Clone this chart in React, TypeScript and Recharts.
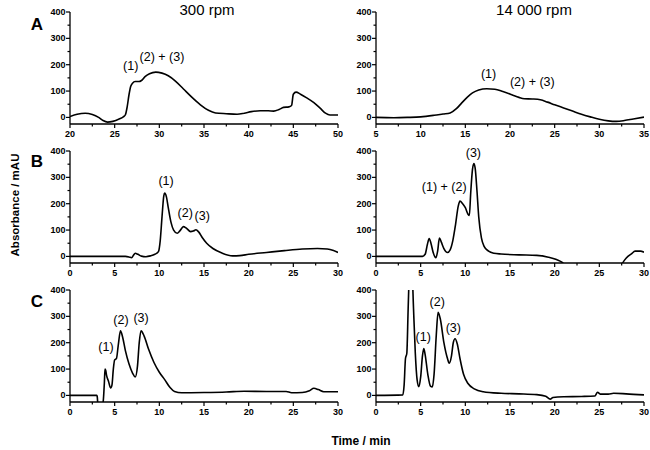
import React from 'react';
import { LineChart, Line, XAxis, YAxis, ReferenceDot } from 'recharts';

const FONT = '"Liberation Sans", Arial, sans-serif';

// ---------- Row A ----------
const timeA300 = [20, 20.8, 21.7, 22.5, 23.2, 23.7, 24.2, 24.8, 25.5, 26.0, 26.2, 26.4, 26.6, 26.8, 27.0, 27.3, 27.7, 28.0, 28.4, 28.9, 29.6, 30.3, 31.0, 31.8, 32.7, 33.6, 34.6, 35.5, 36.3, 37.5, 38.7, 39.5, 40.3, 41.3, 42.2, 42.8, 43.4, 43.9, 44.5, 44.8, 45.0, 45.3, 45.8, 46.5, 47.3, 48.0, 48.6, 49.1, 50];
const absA300 = [3, 12, 16, 11, 0, -12, -18, -15, -6, 3, 10, 40, 85, 118, 130, 136, 136, 140, 155, 166, 172, 168, 158, 138, 108, 78, 48, 27, 17, 14, 12, 16, 22, 25, 25, 24, 30, 38, 40, 45, 88, 96, 88, 74, 56, 35, 16, 9, 9];

const timeA14k = [5, 7, 8.5, 10, 11.5, 12.5, 13.3, 14.0, 14.6, 15.2, 15.8, 16.5, 17.4, 18.3, 19.2, 20.2, 21.0, 21.6, 22.5, 23.4, 24.2, 25.0, 26.0, 27.0, 28.0, 29.0, 30.0, 31.0, 31.9, 32.8, 33.8, 35];
const absA14k = [0, -1, 0, 2, 8, 13, 17, 33, 55, 76, 93, 104, 109, 107, 98, 86, 76, 71, 70, 67, 58, 48, 36, 24, 12, 2, -7, -13, -15, -12, -6, 1];

// ---------- Row B ----------
const timeB300 = [0, 3, 6.2, 6.6, 6.9, 7.1, 7.3, 7.6, 8.0, 8.5, 9.0, 9.5, 9.9, 10.1, 10.3, 10.5, 10.6, 10.8, 11.0, 11.3, 11.6, 12.0, 12.3, 12.7, 13.0, 13.5, 13.8, 14.1, 14.4, 14.8, 15.3, 16.0, 17.0, 18.2, 19.0, 20.0, 22.0, 24.0, 26.0, 27.7, 28.8, 29.5, 30];
const absB300 = [0, 0, 0, -2, -5, 4, 12, 8, 1, -1, 2, 8, 18, 60, 150, 230, 240, 225, 185, 130, 100, 88, 97, 113, 108, 94, 96, 101, 93, 72, 50, 30, 13, 2, 3, 8, 15, 22, 28, 30, 28, 22, 15];

const timeB14k = [0, 5.2, 5.5, 5.75, 5.95, 6.15, 6.4, 6.7, 6.9, 7.1, 7.3, 7.6, 8.0, 8.3, 8.6, 8.9, 9.2, 9.4, 9.7, 10.0, 10.3, 10.45, 10.6, 10.8, 10.95, 11.1, 11.3, 11.5, 11.8, 12.1, 12.6, 13.2, 14, 16, 18, 19.3, 20.2, 20.8, 21.2, 21.8, 27.0, 27.5, 27.8, 28.2, 28.6, 29.0, 29.6, 30];
const absB14k = [0, 0, 8, 45, 68, 50, 15, -5, 20, 70, 55, 30, 15, 25, 60, 120, 190, 210, 200, 185, 160, 155, 240, 330, 352, 335, 250, 150, 70, 38, 20, 12, 9, 6, 4, -3, -12, -22, -35, -60, -60, -30, -15, 0, 10, 20, 20, 16];

// ---------- Row C ----------
const timeC300 = [0, 3.0, 3.05, 3.15, 3.6, 3.75, 3.85, 3.92, 4.0, 4.1, 4.3, 4.55, 4.7, 4.85, 5.0, 5.2, 5.4, 5.65, 5.9, 6.2, 6.6, 7.0, 7.3, 7.55, 7.75, 7.95, 8.3, 8.8, 9.4, 10.0, 10.6, 11.2, 11.7, 12.5, 15, 17.5, 19.5, 22, 24.2, 24.8, 26.0, 26.8, 27.3, 27.8, 28.4, 30];
const absC300 = [0, 0, -5, -45, -45, -10, 50, 100, 95, 75, 55, 28, 40, 100, 135, 140, 190, 245, 220, 170, 120, 85, 70, 110, 200, 245, 225, 175, 125, 88, 60, 30, 15, 10, 11, 13, 16, 15, 15, 10, 11, 18, 27, 22, 14, 14];

const timeC14k = [0, 3.0, 3.15, 3.3, 3.45, 3.6, 3.75, 3.9, 4.05, 4.2, 4.4, 4.6, 4.8, 5.0, 5.2, 5.35, 5.5, 5.8, 6.1, 6.3, 6.5, 6.75, 6.95, 7.2, 7.6, 8.0, 8.2, 8.45, 8.65, 8.85, 9.1, 9.4, 9.8, 10.3, 11, 12, 14, 16, 18, 19.0, 19.5, 19.8, 21, 23, 24.5, 24.8, 25.1, 26.0, 26.6, 28, 30];
const absC14k = [0, 2, 40, 140, 160, 330, 480, 520, 470, 330, 160, 60, 33, 70, 150, 178, 155, 80, 35, 32, 80, 230, 315, 290, 200, 140, 122, 150, 200, 215, 195, 140, 80, 45, 25, 14, 8, 6, 3, -3, -14, -8, -5, -4, -2, 12, 5, 5, 8, 6, 2];

// ---------- Ticks ----------
const yMajor = [0, 100, 200, 300, 400];
const yMinor = [50, 150, 250, 350];
const xMajorA300 = [20, 25, 30, 35, 40, 45, 50];
const xMinorA300 = [22.5, 27.5, 32.5, 37.5, 42.5, 47.5];
const xMajorA14k = [5, 10, 15, 20, 25, 30, 35];
const xMinorA14k = [7.5, 12.5, 17.5, 22.5, 27.5, 32.5];
const xMajor30 = [0, 5, 10, 15, 20, 25, 30];
const xMinor30 = [2.5, 7.5, 12.5, 17.5, 22.5, 27.5];

// ---------- Peak annotations (data coords) ----------
const notesA300 = [{ t: 26.8, v: 195, text: '(1)' }, { t: 30.3, v: 229, text: '(2) + (3)' }];
const notesA14k = [{ t: 17.6, v: 165, text: '(1)' }, { t: 22.5, v: 135, text: '(2) + (3)' }];
const notesB300 = [{ t: 10.75, v: 285, text: '(1)' }, { t: 12.9, v: 164, text: '(2)' }, { t: 14.8, v: 152, text: '(3)' }];
const notesB14k = [{ t: 10.9, v: 391, text: '(3)' }, { t: 7.64, v: 262, text: '(1) + (2)' }];
const notesC300 = [{ t: 4.03, v: 184, text: '(1)' }, { t: 5.7, v: 286, text: '(2)' }, { t: 7.95, v: 294, text: '(3)' }];
const notesC14k = [{ t: 5.28, v: 222, text: '(1)' }, { t: 6.85, v: 354, text: '(2)' }, { t: 8.65, v: 256, text: '(3)' }];

const TICK_OFF = 6; // tickSize 4 + tickMargin 2

const XTick = (props: any) => {
  const { x, y, payload, majors } = props;
  const isMajor = majors.includes(payload.value);
  const axisY = y - TICK_OFF;
  return (
    <g>
      <line x1={x} x2={x} y1={axisY} y2={axisY + (isMajor ? 4 : 2.5)} stroke="#000" strokeWidth={1.2} />
      {isMajor && (
        <text x={x} y={axisY + 9.5} textAnchor="middle" dominantBaseline="central" fontFamily={FONT} fontWeight="bold" fontSize={9} fill="#000">
          {payload.value}
        </text>
      )}
    </g>
  );
};

const YTick = (props: any) => {
  const { x, y, payload, majors } = props;
  const isMajor = majors.includes(payload.value);
  const axisX = x + TICK_OFF;
  return (
    <g>
      <line x1={axisX} x2={axisX - (isMajor ? 4 : 2.5)} y1={y} y2={y} stroke="#000" strokeWidth={1.2} />
      {isMajor && (
        <text x={axisX - 4.5} y={y} textAnchor="end" dominantBaseline="central" fontFamily={FONT} fontWeight="bold" fontSize={9} fill="#000">
          {payload.value}
        </text>
      )}
    </g>
  );
};

type Note = { t: number; v: number; text: string };

const noteShape = (text: string) => (p: any) => (
  <text x={p.cx} y={p.cy} textAnchor="middle" dominantBaseline="central" fontFamily={FONT} fontSize={12.5} fill="#000" stroke="none">
    {text}
  </text>
);

function Panel(props: {
  plotLeft: number; plotTop: number; times: number[]; values: number[];
  domain: [number, number]; majors: number[]; minors: number[]; notes: Note[];
}) {
  const { plotLeft, plotTop, times, values, domain, majors, minors, notes } = props;
  const data = times.map((t, i) => ({ t, v: values[i] }));
  const xTicks = [...majors, ...minors].sort((a, b) => a - b);
  const yTicks = [...yMajor, ...yMinor].sort((a, b) => a - b);
  return (
    <div style={{ position: 'absolute', left: plotLeft - 40, top: plotTop - 6 }}>
      <LineChart width={316} height={138} data={data} margin={{ top: 6, right: 8, bottom: 0, left: 0 }}>
        <XAxis dataKey="t" type="number" domain={domain} ticks={xTicks} interval={0} allowDataOverflow height={20}
          tickSize={4} tickMargin={2} tickLine={false} axisLine={{ stroke: '#000', strokeWidth: 1.3 }}
          tick={<XTick majors={majors} />} />
        <YAxis type="number" domain={[-25, 400]} ticks={yTicks} interval={0} allowDataOverflow width={40}
          tickSize={4} tickMargin={2} tickLine={false} axisLine={{ stroke: '#000', strokeWidth: 1.3 }}
          tick={<YTick majors={yMajor} />} />
        <Line dataKey="v" type="monotone" stroke="#000" strokeWidth={1.6} dot={false} isAnimationActive={false} />
        {notes.map((n, i) => (
          <ReferenceDot key={i} x={n.t} y={n.v} r={1} ifOverflow="visible" shape={noteShape(n.text)} />
        ))}
      </LineChart>
    </div>
  );
}

export default function App() {
  return (
    <div style={{ position: 'absolute', left: 0, top: 0, width: 650, height: 450, background: '#fff', overflow: 'hidden' }}>
      <Panel plotLeft={70} plotTop={12} times={timeA300} values={absA300} domain={[20, 50]} majors={xMajorA300} minors={xMinorA300} notes={notesA300} />
      <Panel plotLeft={376} plotTop={12} times={timeA14k} values={absA14k} domain={[5, 35]} majors={xMajorA14k} minors={xMinorA14k} notes={notesA14k} />
      <Panel plotLeft={70} plotTop={151} times={timeB300} values={absB300} domain={[0, 30]} majors={xMajor30} minors={xMinor30} notes={notesB300} />
      <Panel plotLeft={376} plotTop={151} times={timeB14k} values={absB14k} domain={[0, 30]} majors={xMajor30} minors={xMinor30} notes={notesB14k} />
      <Panel plotLeft={70} plotTop={290} times={timeC300} values={absC300} domain={[0, 30]} majors={xMajor30} minors={xMinor30} notes={notesC300} />
      <Panel plotLeft={376} plotTop={290} times={timeC14k} values={absC14k} domain={[0, 30]} majors={xMajor30} minors={xMinor30} notes={notesC14k} />
      <svg width={650} height={450} style={{ position: 'absolute', left: 0, top: 0, pointerEvents: 'none' }}>
        <text x={207} y={9} textAnchor="middle" dominantBaseline="central" fontFamily={FONT} fontSize={15} fill="#000">300 rpm</text>
        <text x={534} y={9} textAnchor="middle" dominantBaseline="central" fontFamily={FONT} fontSize={15} fill="#000">14 000 rpm</text>
        <text x={37} y={24} textAnchor="middle" dominantBaseline="central" fontFamily={FONT} fontWeight="bold" fontSize={17} fill="#000">A</text>
        <text x={37} y={161} textAnchor="middle" dominantBaseline="central" fontFamily={FONT} fontWeight="bold" fontSize={17} fill="#000">B</text>
        <text x={37} y={301} textAnchor="middle" dominantBaseline="central" fontFamily={FONT} fontWeight="bold" fontSize={17} fill="#000">C</text>
        <text x={15} y={205} transform="rotate(-90 15 205)" textAnchor="middle" dominantBaseline="central" fontFamily={FONT} fontWeight="bold" fontSize={11.5} fill="#000">Absorbance / mAU</text>
        <text x={361} y={441} textAnchor="middle" dominantBaseline="central" fontFamily={FONT} fontWeight="bold" fontSize={12} fill="#000">Time / min</text>
      </svg>
    </div>
  );
}
